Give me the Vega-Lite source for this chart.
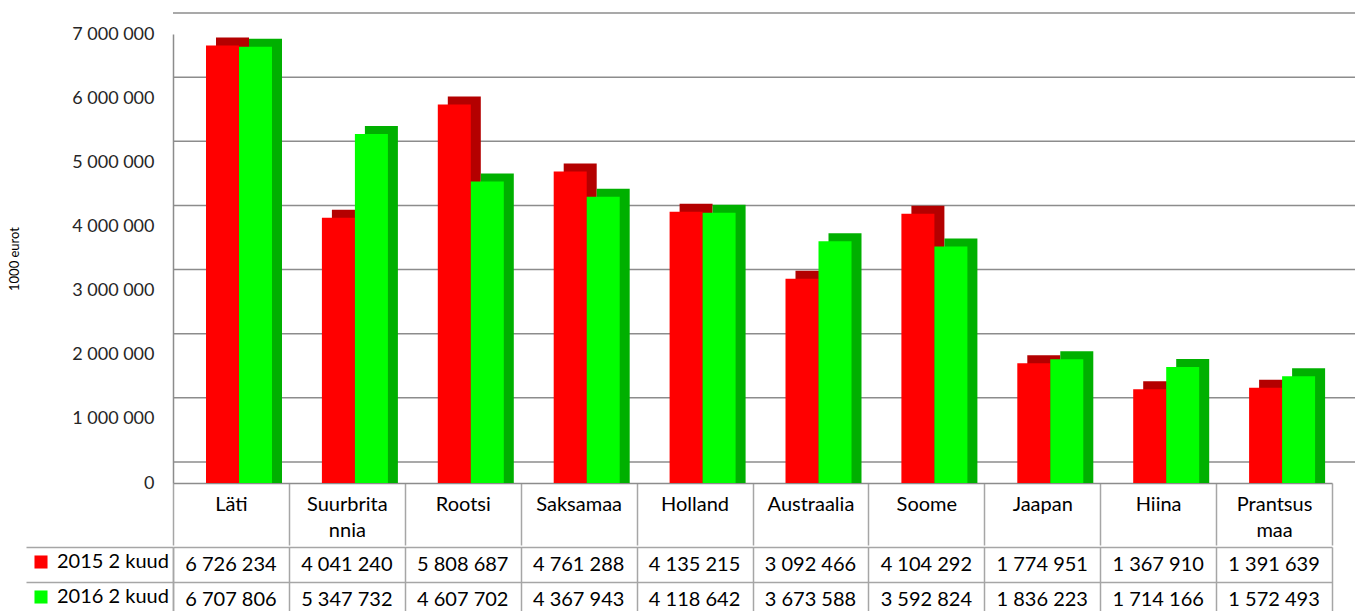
{
  "$schema": "https://vega.github.io/schema/vega-lite/v6.json",
  "padding": {"left": 8, "top": 12, "right": 0, "bottom": 0},
  "config": {
    "font": "Lato",
    "view": {"stroke": null},
    "locale": {"number": {"decimal": ",", "thousands": " ", "grouping": [3], "currency": ["", ""]}},
    "concat": {"spacing": 0}
  },
  "datasets": {
    "exports": [
      {"country": "Läti", "period": "2015 2 kuud", "value": 6726234},
      {"country": "Suurbritannia", "period": "2015 2 kuud", "value": 4041240},
      {"country": "Rootsi", "period": "2015 2 kuud", "value": 5808687},
      {"country": "Saksamaa", "period": "2015 2 kuud", "value": 4761288},
      {"country": "Holland", "period": "2015 2 kuud", "value": 4135215},
      {"country": "Austraalia", "period": "2015 2 kuud", "value": 3092466},
      {"country": "Soome", "period": "2015 2 kuud", "value": 4104292},
      {"country": "Jaapan", "period": "2015 2 kuud", "value": 1774951},
      {"country": "Hiina", "period": "2015 2 kuud", "value": 1367910},
      {"country": "Prantsusmaa", "period": "2015 2 kuud", "value": 1391639},
      {"country": "Läti", "period": "2016 2 kuud", "value": 6707806},
      {"country": "Suurbritannia", "period": "2016 2 kuud", "value": 5347732},
      {"country": "Rootsi", "period": "2016 2 kuud", "value": 4607702},
      {"country": "Saksamaa", "period": "2016 2 kuud", "value": 4367943},
      {"country": "Holland", "period": "2016 2 kuud", "value": 4118642},
      {"country": "Austraalia", "period": "2016 2 kuud", "value": 3673588},
      {"country": "Soome", "period": "2016 2 kuud", "value": 3592824},
      {"country": "Jaapan", "period": "2016 2 kuud", "value": 1836223},
      {"country": "Hiina", "period": "2016 2 kuud", "value": 1714166},
      {"country": "Prantsusmaa", "period": "2016 2 kuud", "value": 1572493}
    ],
    "gridlines": [
      {"v": 0}, {"v": 1000000}, {"v": 2000000}, {"v": 3000000},
      {"v": 4000000}, {"v": 5000000}, {"v": 6000000}, {"v": 7000000}
    ]
  },
  "vconcat": [
    {
      "width": 1159,
      "height": 449,
      "resolve": {"scale": {"xOffset": "independent"}},
      "layer": [
        {
          "data": {"name": "gridlines"},
          "mark": {"type": "rule", "color": "#8c8c8c", "strokeWidth": 1.5, "xOffset": 28, "x2Offset": 28, "yOffset": -21},
          "encoding": {
            "y": {
              "field": "v", "type": "quantitative",
              "scale": {"domain": [0, 7000000], "nice": false},
              "title": "1000 eurot",
              "axis": {
                "values": [0, 1000000, 2000000, 3000000, 4000000, 5000000, 6000000, 7000000],
                "labelExpr": "format(datum.value, ',')",
                "grid": false, "ticks": false,
                "labelFontSize": 18, "labelColor": "#262626", "labelPadding": 19,
                "domainColor": "#8c8c8c", "domainWidth": 1.5,
                "titleFontSize": 13, "titleFontWeight": "normal", "titleColor": "#000000", "titlePadding": 50
              }
            }
          }
        },
        {
          "data": {"name": "exports"},
          "mark": {"type": "bar", "yOffset": -14, "y2Offset": -14},
          "encoding": {
            "x": {
              "field": "country", "type": "nominal",
              "sort": ["Läti", "Suurbritannia", "Rootsi", "Saksamaa", "Holland", "Austraalia", "Soome", "Jaapan", "Hiina", "Prantsusmaa"],
              "scale": {"paddingInner": 0, "paddingOuter": 0},
              "title": null,
              "axis": {
                "labelAngle": 0, "labelAlign": "center", "labelFontSize": 20, "labelColor": "#000000",
                "labelPadding": -51, "labelBaseline": "top", "labelLineHeight": 26,
                "labelExpr": "datum.value == 'Suurbritannia' ? ['Suurbrita', 'nnia'] : datum.value == 'Prantsusmaa' ? ['Prantsus', 'maa'] : datum.value",
                "tickBand": "extent", "tickSize": 62, "tickColor": "#a6a6a6", "tickWidth": 1.5,
                "domainColor": "#8c8c8c", "domainWidth": 1.5, "grid": false
              }
            },
            "xOffset": {"field": "period", "type": "nominal", "scale": {"paddingInner": 0, "paddingOuter": 0, "range": [43, 109]}},
            "y": {
              "field": "value", "type": "quantitative", "stack": null,
              "title": "1000 eurot",
              "axis": {
                "values": [0, 1000000, 2000000, 3000000, 4000000, 5000000, 6000000, 7000000],
                "labelExpr": "format(datum.value, ',')",
                "grid": false, "ticks": false,
                "labelFontSize": 18, "labelColor": "#262626", "labelPadding": 19,
                "domainColor": "#8c8c8c", "domainWidth": 1.5,
                "titleFontSize": 13, "titleFontWeight": "normal", "titleColor": "#000000", "titlePadding": 50
              }
            },
            "color": {"condition": {"test": "datum.period == '2015 2 kuud'", "value": "#b40000"}, "value": "#00b000"}
          }
        },
        {
          "data": {"name": "exports"},
          "mark": {"type": "bar", "yOffset": -6, "y2Offset": -6},
          "encoding": {
            "x": {
              "field": "country", "type": "nominal",
              "sort": ["Läti", "Suurbritannia", "Rootsi", "Saksamaa", "Holland", "Austraalia", "Soome", "Jaapan", "Hiina", "Prantsusmaa"],
              "title": null,
              "axis": {
                "labelAngle": 0, "labelAlign": "center", "labelFontSize": 20, "labelColor": "#000000",
                "labelPadding": -51, "labelBaseline": "top", "labelLineHeight": 26,
                "labelExpr": "datum.value == 'Suurbritannia' ? ['Suurbrita', 'nnia'] : datum.value == 'Prantsusmaa' ? ['Prantsus', 'maa'] : datum.value",
                "tickBand": "extent", "tickSize": 62, "tickColor": "#a6a6a6", "tickWidth": 1.5,
                "domainColor": "#8c8c8c", "domainWidth": 1.5, "grid": false
              }
            },
            "xOffset": {"field": "period", "type": "nominal", "scale": {"paddingInner": 0, "paddingOuter": 0, "range": [33, 99]}},
            "y": {
              "field": "value", "type": "quantitative", "stack": null,
              "title": "1000 eurot",
              "axis": {
                "values": [0, 1000000, 2000000, 3000000, 4000000, 5000000, 6000000, 7000000],
                "labelExpr": "format(datum.value, ',')",
                "grid": false, "ticks": false,
                "labelFontSize": 18, "labelColor": "#262626", "labelPadding": 19,
                "domainColor": "#8c8c8c", "domainWidth": 1.5,
                "titleFontSize": 13, "titleFontWeight": "normal", "titleColor": "#000000", "titlePadding": 50
              }
            },
            "color": {
              "field": "period", "type": "nominal",
              "scale": {"domain": ["2015 2 kuud", "2016 2 kuud"], "range": ["#ff0000", "#00ff00"]},
              "legend": {
                "orient": "none", "legendX": -142, "legendY": 518, "title": null,
                "symbolType": "square", "symbolSize": 170, "symbolStrokeWidth": 0,
                "labelFontSize": 20, "labelColor": "#000000", "labelOffset": 6, "rowPadding": 15
              }
            }
          }
        }
      ]
    },
    {
      "width": 1159,
      "height": 70,
      "data": {"name": "exports"},
      "mark": {"type": "text", "fontSize": 20, "color": "#000000"},
      "encoding": {
        "x": {
          "field": "country", "type": "nominal",
          "sort": ["Läti", "Suurbritannia", "Rootsi", "Saksamaa", "Holland", "Austraalia", "Soome", "Jaapan", "Hiina", "Prantsusmaa"],
          "scale": {"paddingInner": 0, "paddingOuter": 0},
          "axis": {"orient": "top", "title": null, "labels": false, "ticks": false, "domain": false, "grid": true, "tickBand": "extent", "gridColor": "#a6a6a6", "gridWidth": 1.5}
        },
        "y": {
          "field": "period", "type": "nominal",
          "axis": {"title": null, "labels": false, "ticks": true, "tickBand": "extent", "tickSize": 147, "tickColor": "#a6a6a6", "tickWidth": 1.5, "grid": true, "gridColor": "#a6a6a6", "gridWidth": 1.5, "domain": true, "domainColor": "#a6a6a6", "domainWidth": 1.5}
        },
        "text": {"field": "value", "type": "quantitative", "format": ","}
      }
    }
  ]
}
